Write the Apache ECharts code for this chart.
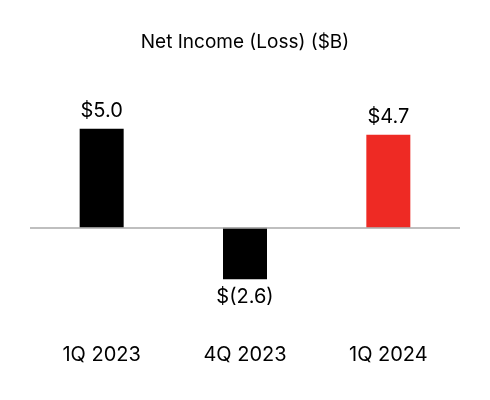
<!DOCTYPE html><html><head><meta charset="utf-8"><script src="https://cdn.jsdelivr.net/npm/echarts@6/dist/echarts.min.js"></script></head><body style="margin:0"><div id="c" style="width:490px;height:400px"></div><script>
const categories=["1Q 2023","4Q 2023","1Q 2024"];
const values=[5.0,-2.6,4.7];
const labels=["$5.0","$(2.6)","$4.7"];
const colors=["#000000","#000000","#ee2a24"];
const ch=echarts.init(document.getElementById('c'));
ch.setOption({
title:{text:"Net Income (Loss) ($B)",left:'center',top:28,textStyle:{fontFamily:'Inter',fontSize:19,fontWeight:'normal',color:'#000'}},
grid:{left:30,right:30,top:109,bottom:93},
xAxis:{type:'category',data:categories,axisLine:{show:false},axisTick:{show:false},axisLabel:{margin:38,fontFamily:'Inter',fontSize:20,color:'#000'}},
yAxis:{type:'value',min:-4,max:6,show:false},
series:[{type:'bar',barWidth:44,data:values.map((v,i)=>({value:v,itemStyle:{color:colors[i]},label:{show:true,position:v>=0?'top':'bottom',distance:8,formatter:labels[i],fontFamily:'Inter',fontSize:20,color:'#000'}})),
markLine:{silent:true,symbol:'none',label:{show:false},lineStyle:{color:'#aaaaaa',type:'solid',width:1.5},data:[{yAxis:0}]},z:1}]
});
</script></body></html>
